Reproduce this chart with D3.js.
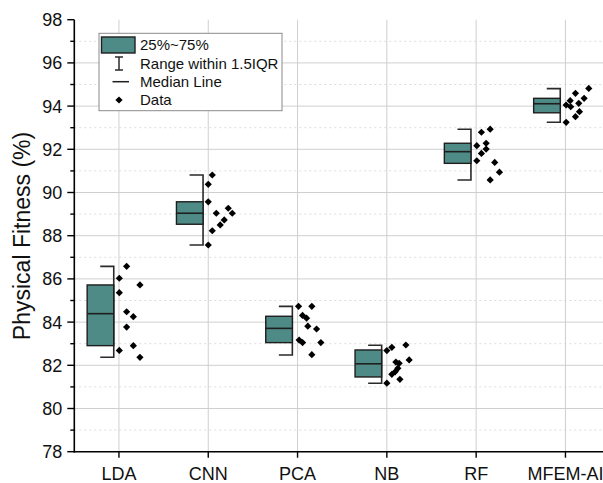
<!DOCTYPE html>
<html>
<head>
<meta charset="utf-8">
<script src="https://cdn.jsdelivr.net/npm/d3@7"></script>
<style>
  html, body { margin: 0; padding: 0; background: #fff; }
  svg { display: block; font-family: Arial, "Liberation Sans", sans-serif; }
</style>
</head>
<body>
<svg id="chart" width="603" height="483"></svg>
<script>
// Methods compared
const categories = ["LDA", "CNN", "PCA", "NB", "RF", "MFEM-AI"];

// Box statistics per method (%)
const q1         = [82.91, 88.53, 83.05, 81.46, 91.35, 93.69];
const medians    = [84.39, 89.04, 83.71, 82.07, 91.89, 94.11];
const q3         = [85.72, 89.57, 84.27, 82.71, 92.28, 94.36];
const whiskerLow = [82.37, 87.57, 82.48, 81.17, 90.58, 93.25];
const whiskerHigh= [86.58, 90.81, 84.73, 82.93, 92.93, 94.81];

// Individual runs per method (%)
const ldaRuns  = [86.58, 86.03, 85.72, 85.36, 84.48, 84.25, 83.77, 82.91, 82.69, 82.37];
const cnnRuns  = [90.81, 90.38, 89.57, 89.27, 89.04, 89.04, 88.73, 88.50, 88.23, 87.57];
const pcaRuns  = [84.73, 84.73, 84.31, 84.18, 83.81, 83.68, 83.17, 83.05, 83.05, 82.49];
const nbRuns   = [82.68, 82.83, 82.94, 82.15, 82.09, 82.25, 81.86, 81.70, 81.58, 81.35, 81.17];
const rfRuns   = [92.79, 92.93, 92.17, 92.28, 92.01, 91.81, 91.47, 91.39, 90.94, 90.58];
const mfemRuns = [94.82, 94.59, 94.36, 94.25, 94.13, 94.05, 93.97, 93.74, 93.51, 93.25];
const runs = [ldaRuns, cnnRuns, pcaRuns, nbRuns, rfRuns, mfemRuns];

// Horizontal jitter of each run, as a fraction of the category band
const ldaJitter  = [0.086, 0.004, 0.235, 0.004, 0.086, 0.161, 0.086, 0.161, 0.004, 0.235];
const cnnJitter  = [0.045, 0.0, 0.0, 0.224, 0.090, 0.269, 0.179, 0.134, 0.045, 0.0];
const pcaJitter  = [0.011, 0.160, 0.056, 0.101, 0.115, 0.213, 0.018, 0.056, 0.261, 0.160];
const nbJitter   = [0.0, 0.056, 0.213, 0.101, 0.138, 0.250, 0.123, 0.093, 0.056, 0.146, 0.0];
const rfJitter   = [0.059, 0.157, 0.007, 0.112, 0.112, 0.059, 0.007, 0.208, 0.261, 0.157];
const mfemJitter = [0.261, 0.112, 0.209, 0.053, 0.149, 0.008, 0.059, 0.157, 0.112, 0.008];
const jitters = [ldaJitter, cnnJitter, pcaJitter, nbJitter, rfJitter, mfemJitter];

const yMajorTicks = [78, 80, 82, 84, 86, 88, 90, 92, 94, 96, 98];
const yMinorTicks = [79, 81, 83, 85, 87, 89, 91, 93, 95, 97];

const legendItems = ["25%~75%", "Range within 1.5IQR", "Median Line", "Data"];

const svg = d3.select("#chart");
const W = 603;
const plotLeft = 74.3, plotTop = 19.7, plotBottom = 451.7;
const bandW = 89.3;

const x = d3.scaleBand().domain(categories).range([plotLeft, plotLeft + bandW * categories.length]).padding(0);
const cx = c => x(c) + x.bandwidth() / 2;
const y = d3.scaleLinear().domain([78, 98]).range([plotBottom, plotTop]);

const boxColor = "#4f8b86";
const gridColor = "#cfcfcf";

// grid
const grid = svg.append("g");
grid.selectAll("line.hmajor").data(yMajorTicks.filter(v => v > 78 && v < 98)).join("line")
  .attr("x1", plotLeft).attr("x2", W).attr("y1", d => y(d)).attr("y2", d => y(d))
  .attr("stroke", gridColor).attr("stroke-width", 1);
grid.selectAll("line.hminor").data(yMinorTicks).join("line")
  .attr("x1", plotLeft).attr("x2", W).attr("y1", d => y(d)).attr("y2", d => y(d))
  .attr("stroke", "#dcdcdc").attr("stroke-width", 1).attr("stroke-dasharray", "2,3");
grid.selectAll("line.v").data(categories).join("line")
  .attr("x1", d => cx(d)).attr("x2", d => cx(d)).attr("y1", plotTop).attr("y2", plotBottom)
  .attr("stroke", gridColor).attr("stroke-width", 1);

// boxes
const boxLeft = -31.8, boxRight = -5.2;
const g = svg.append("g");
categories.forEach((c, i) => {
  const c0 = cx(c);
  // whisker
  g.append("path")
    .attr("d", `M${c0 + boxRight - 13.5},${y(whiskerHigh[i])}H${c0 + boxRight}V${y(whiskerLow[i])}H${c0 + boxRight - 13.5}`)
    .attr("fill", "none").attr("stroke", "#2a2a2a").attr("stroke-width", 1.6);
  g.append("rect")
    .attr("x", c0 + boxLeft).attr("width", boxRight - boxLeft)
    .attr("y", y(q3[i])).attr("height", y(q1[i]) - y(q3[i]))
    .attr("fill", boxColor).attr("stroke", "#1e1e1e").attr("stroke-width", 1.4);
  g.append("line")
    .attr("x1", c0 + boxLeft).attr("x2", c0 + boxRight)
    .attr("y1", y(medians[i])).attr("y2", y(medians[i]))
    .attr("stroke", "#1e1e1e").attr("stroke-width", 1.6);
});

// data points
const diamond = d3.symbol().type(d3.symbolSquare).size(26)();
categories.forEach((c, i) => {
  g.selectAll(null).data(runs[i]).join("path")
    .attr("d", diamond)
    .attr("transform", (d, j) => `translate(${cx(c) + jitters[i][j] * x.bandwidth()},${y(d)}) rotate(45)`)
    .attr("fill", "#000");
});

// axes
const axes = svg.append("g");
axes.append("line").attr("x1", plotLeft).attr("x2", plotLeft).attr("y1", plotTop).attr("y2", plotBottom + 0.8)
  .attr("stroke", "#000").attr("stroke-width", 1.6);
axes.append("line").attr("x1", plotLeft - 0.8).attr("x2", W).attr("y1", plotBottom).attr("y2", plotBottom)
  .attr("stroke", "#000").attr("stroke-width", 1.6);

axes.selectAll("line.ymaj").data(yMajorTicks).join("line")
  .attr("x1", plotLeft - 7).attr("x2", plotLeft).attr("y1", d => y(d)).attr("y2", d => y(d))
  .attr("stroke", "#000").attr("stroke-width", 1.4);
axes.selectAll("line.ymin").data(yMinorTicks).join("line")
  .attr("x1", plotLeft - 4).attr("x2", plotLeft).attr("y1", d => y(d)).attr("y2", d => y(d))
  .attr("stroke", "#000").attr("stroke-width", 1.4);
axes.selectAll("text.ylab").data(yMajorTicks).join("text")
  .attr("x", plotLeft - 12).attr("y", d => y(d)).attr("dy", "0.36em")
  .attr("text-anchor", "end").attr("font-size", 18).attr("fill", "#111")
  .text(d => d);

axes.selectAll("line.xt").data(categories).join("line")
  .attr("x1", d => cx(d)).attr("x2", d => cx(d)).attr("y1", plotBottom).attr("y2", plotBottom + 6)
  .attr("stroke", "#000").attr("stroke-width", 1.4);
axes.selectAll("text.xlab").data(categories).join("text")
  .attr("x", d => cx(d)).attr("y", 480)
  .attr("text-anchor", "middle").attr("font-size", 18).attr("fill", "#111")
  .text(d => d);

svg.append("text")
  .attr("transform", `translate(30,236) rotate(-90)`)
  .attr("text-anchor", "middle").attr("font-size", 23).attr("fill", "#111")
  .text("Physical Fitness (%)");

// legend
const lg = svg.append("g");
lg.append("rect").attr("x", 99).attr("y", 33.3).attr("width", 183).attr("height", 77.4)
  .attr("fill", "#fff").attr("stroke", "#8a8a8a").attr("stroke-width", 1);
lg.append("rect").attr("x", 101.5).attr("y", 37).attr("width", 33.5).attr("height", 16)
  .attr("fill", boxColor).attr("stroke", "#1e1e1e").attr("stroke-width", 1.4);
lg.append("path").attr("d", "M115,57H123M119,57V70M115,70H123")
  .attr("fill", "none").attr("stroke", "#2a2a2a").attr("stroke-width", 1.5);
lg.append("line").attr("x1", 112.5).attr("x2", 129).attr("y1", 81.7).attr("y2", 81.7)
  .attr("stroke", "#1e1e1e").attr("stroke-width", 1.5);
lg.append("path").attr("d", diamond).attr("transform", "translate(119,100) rotate(45)").attr("fill", "#000");
lg.selectAll("text").data(legendItems).join("text")
  .attr("x", 140).attr("y", (d, i) => [44.5, 63.3, 81.7, 100][i]).attr("dy", "0.36em")
  .attr("font-size", 15).attr("fill", "#111")
  .text(d => d);
</script>
</body>
</html>
